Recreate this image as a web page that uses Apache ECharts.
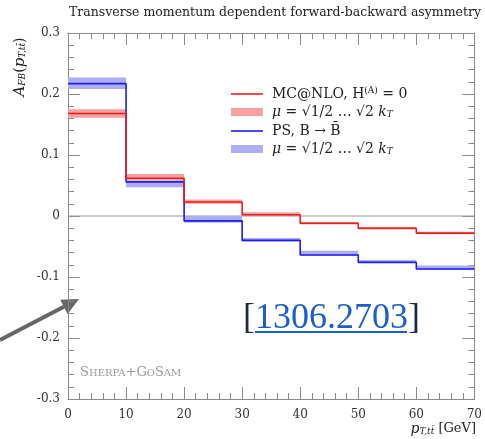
<!DOCTYPE html>
<html>
<head>
<meta charset="utf-8">
<script src="https://cdn.jsdelivr.net/npm/echarts@6/dist/echarts.min.js"></script>
<style>
  html, body { margin: 0; padding: 0; background: #fff; }
  #chart { width: 485px; height: 439px; }
</style>
</head>
<body>
<div id="chart"></div>
<script>
// Bin edges of p_T,tt̄ in GeV
const binEdges = [0, 10, 20, 30, 40, 50, 60, 70];
// MC@NLO, H^(A) = 0 : central value and scale-variation band
const mcnlo   = [0.168, 0.062, 0.023, 0.002, -0.012, -0.020, -0.028];
const mcnloLo = [0.161, 0.058, 0.020, 0.000, -0.014, -0.022, -0.030];
const mcnloHi = [0.175, 0.069, 0.027, 0.006, -0.010, -0.018, -0.026];
// PS, B -> B̄ : central value and scale-variation band
const ps   = [0.217, 0.056, -0.008, -0.040, -0.064, -0.076, -0.087];
const psLo = [0.208, 0.047, -0.011, -0.042, -0.065, -0.077, -0.088];
const psHi = [0.227, 0.058, 0.000, -0.036, -0.057, -0.072, -0.081];
// Axis tick values
const xTicks = [0, 10, 20, 30, 40, 50, 60, 70];
const yTicks = [-0.3, -0.2, -0.1, 0, 0.1, 0.2, 0.3];

const RED = '#ee1d1d', BLUE = '#1d1dee';
const RED_BAND = '#f7a1a1', BLUE_BAND = '#aeaef6';
const AXIS_GREY = '#8a8a8a';
const SERIF = '"DejaVu Serif", serif';
const TIMES = '"Liberation Serif", serif';

// step line points: one point per bin start plus the final edge
function stepPoints(vals) {
  const pts = vals.map((v, i) => [binEdges[i], v]);
  pts.push([binEdges[binEdges.length - 1], vals[vals.length - 1]]);
  return pts;
}
function bandData(lo, hi) {
  return lo.map((l, i) => [binEdges[i], binEdges[i + 1], l, hi[i]]);
}
function bandRenderer(color) {
  return function (params, api) {
    const p0 = api.coord([api.value(0), api.value(3)]);
    const p1 = api.coord([api.value(1), api.value(2)]);
    return {
      type: 'rect',
      shape: { x: p0[0], y: p0[1], width: p1[0] - p0[0], height: p1[1] - p0[1] },
      style: { fill: color }
    };
  };
}

const xMin = xTicks[0], xMax = xTicks[xTicks.length - 1];
const yMin = yTicks[0], yMax = yTicks[yTicks.length - 1];

function xAxisDef(pos, showLabels) {
  return {
    type: 'value', position: pos, min: xMin, max: xMax, interval: 10,
    axisLine: { show: true, onZero: false, lineStyle: { color: AXIS_GREY, width: 1 } },
    axisTick: { show: true, inside: true, length: 12, lineStyle: { color: AXIS_GREY } },
    minorTick: { show: true, splitNumber: 5, length: 6, lineStyle: { color: AXIS_GREY } },
    splitLine: { show: false },
    axisLabel: { show: showLabels, color: '#333', fontFamily: SERIF, fontSize: 12, margin: 10 }
  };
}
function yAxisDef(pos, showLabels) {
  return {
    type: 'value', position: pos, min: yMin, max: yMax, interval: 0.1,
    axisLine: { show: true, onZero: false, lineStyle: { color: AXIS_GREY, width: 1 } },
    axisTick: { show: true, inside: true, length: 12, lineStyle: { color: AXIS_GREY } },
    minorTick: { show: true, splitNumber: 5, length: 6, lineStyle: { color: AXIS_GREY } },
    splitLine: { show: false },
    axisLabel: {
      show: showLabels, color: '#333', fontFamily: SERIF, fontSize: 12, margin: 8,
      formatter: v => (Math.abs(v) < 1e-9 ? '0' : (Math.round(v * 10) / 10).toString())
    }
  };
}

const chart = echarts.init(document.getElementById('chart'), null, { renderer: 'canvas' });

// arrow pointing into the plot from the left edge
const tip = [79, 299], tail = [0, 340];
const dx = tip[0] - tail[0], dy = tip[1] - tail[1];
const len = Math.hypot(dx, dy), ux = dx / len, uy = dy / len;
const nx = -uy, ny = ux;
const base = [tip[0] - 17 * ux, tip[1] - 17 * uy];

const legendX = 231, legendTextX = 272;
const legendRows = [94, 112, 131, 149];
const sub = { fontSize: 9, verticalAlign: 'bottom', fontFamily: SERIF, fontStyle: 'italic', fill: '#222' };
const ital = { fontStyle: 'italic', fontFamily: SERIF, fontSize: 14, fill: '#222' };

chart.setOption({
  animation: false,
  grid: { left: 68, right: 10, top: 33, bottom: 40 },
  xAxis: [xAxisDef('bottom', true), xAxisDef('top', false)],
  yAxis: [yAxisDef('left', true), yAxisDef('right', false)],
  series: [
    {
      type: 'custom', name: 'PS band', renderItem: bandRenderer(BLUE_BAND),
      data: bandData(psLo, psHi), encode: { x: [0, 1], y: [2, 3] }, z: 1
    },
    {
      type: 'custom', name: 'MC@NLO band', renderItem: bandRenderer(RED_BAND),
      data: bandData(mcnloLo, mcnloHi), encode: { x: [0, 1], y: [2, 3] }, z: 2
    },
    {
      type: 'line', name: 'zero', data: [[xMin, 0], [xMax, 0]], symbol: 'none', silent: true,
      lineStyle: { color: '#9a9a9a', width: 1 }, z: 0
    },
    {
      type: 'line', name: 'PS, B → B̄', data: stepPoints(ps), step: 'end', symbol: 'none',
      lineStyle: { color: BLUE, width: 1.6 }, z: 3
    },
    {
      type: 'line', name: 'MC@NLO, H(A) = 0', data: stepPoints(mcnlo), step: 'end', symbol: 'none',
      lineStyle: { color: RED, width: 1.6 }, z: 4
    }
  ],
  graphic: [
    // title
    {
      type: 'text', x: 275, y: 13, style: {
        text: 'Transverse momentum dependent forward-backward asymmetry',
        align: 'center', verticalAlign: 'middle', font: '12.5px ' + SERIF, fill: '#222'
      }
    },
    // legend
    { type: 'line', shape: { x1: legendX, y1: legendRows[0], x2: legendX + 32, y2: legendRows[0] }, style: { stroke: RED, lineWidth: 1.6 } },
    { type: 'rect', shape: { x: legendX, y: legendRows[1] - 4, width: 32, height: 8 }, style: { fill: RED_BAND } },
    { type: 'line', shape: { x1: legendX, y1: legendRows[2], x2: legendX + 32, y2: legendRows[2] }, style: { stroke: BLUE, lineWidth: 1.6 } },
    { type: 'rect', shape: { x: legendX, y: legendRows[3] - 4, width: 32, height: 8 }, style: { fill: BLUE_BAND } },
    {
      type: 'text', x: legendTextX, y: legendRows[0], style: {
        text: 'MC@NLO, H{sup|(A)} = 0', verticalAlign: 'middle',
        font: '14px ' + SERIF, fill: '#222',
        rich: { sup: { fontSize: 9, verticalAlign: 'top', fontFamily: SERIF, fill: '#222', padding: [0, 0, 6, 0] } }
      }
    },
    {
      type: 'text', x: legendTextX, y: legendRows[1], style: {
        text: '{i|μ} = √1/2 … √2 {i|k}{s|T}', verticalAlign: 'middle',
        font: '14px ' + SERIF, fill: '#222', rich: { i: ital, s: sub }
      }
    },
    {
      type: 'text', x: legendTextX, y: legendRows[2], style: {
        text: 'PS, B → B̄', verticalAlign: 'middle', font: '14px ' + SERIF, fill: '#222'
      }
    },
    {
      type: 'text', x: legendTextX, y: legendRows[3], style: {
        text: '{i|μ} = √1/2 … √2 {i|k}{s|T}', verticalAlign: 'middle',
        font: '14px ' + SERIF, fill: '#222', rich: { i: ital, s: sub }
      }
    },
    // y-axis title
    {
      type: 'text', x: 20, y: 67, rotation: Math.PI / 2, style: {
        text: '{i|A}{s|FB}({i|p}{s|T,tt̄})', align: 'center', verticalAlign: 'middle',
        font: '14px ' + SERIF, fill: '#222',
        rich: { i: Object.assign({}, ital, { fontSize: 15 }), s: sub }
      }
    },
    // x-axis title
    {
      type: 'text', x: 476, y: 429, style: {
        text: '{i|p}{s|T,tt̄} [GeV]', align: 'right', verticalAlign: 'middle',
        font: '13px ' + SERIF, fill: '#222', rich: { i: ital, s: sub }
      }
    },
    // generator tag in small caps
    {
      type: 'text', x: 80, y: 373, style: {
        text: '{b|S}{s|HERPA}{b|+G}{s|O}{b|S}{s|AM}', verticalAlign: 'middle',
        font: '13px ' + SERIF, fill: '#9a9a9a',
        rich: {
          b: { fontSize: 13, fontFamily: SERIF, fill: '#9a9a9a' },
          s: { fontSize: 10, fontFamily: SERIF, fill: '#9a9a9a' }
        }
      }
    },
    // reference link
    {
      type: 'text', x: 243, y: 319, style: {
        text: '{br|[}{n|1306.2703}{br|]}', verticalAlign: 'middle',
        font: '36px ' + TIMES, fill: '#1b2b48',
        rich: {
          br: { fontSize: 36, fontFamily: TIMES, fill: '#1b2b48' },
          n: { fontSize: 36, fontFamily: TIMES, fill: '#1c5fca' }
        }
      }
    },
    { type: 'line', shape: { x1: 255, y1: 332, x2: 407, y2: 332 }, style: { stroke: '#1c5fca', lineWidth: 2 } },
    // arrow
    { type: 'line', shape: { x1: tail[0], y1: tail[1], x2: base[0], y2: base[1] }, style: { stroke: '#666', lineWidth: 4 } },
    {
      type: 'polygon', shape: {
        points: [tip, [base[0] + 8 * nx, base[1] + 8 * ny], [base[0] - 8 * nx, base[1] - 8 * ny]]
      }, style: { fill: '#666' }
    }
  ]
});
</script>
</body>
</html>
